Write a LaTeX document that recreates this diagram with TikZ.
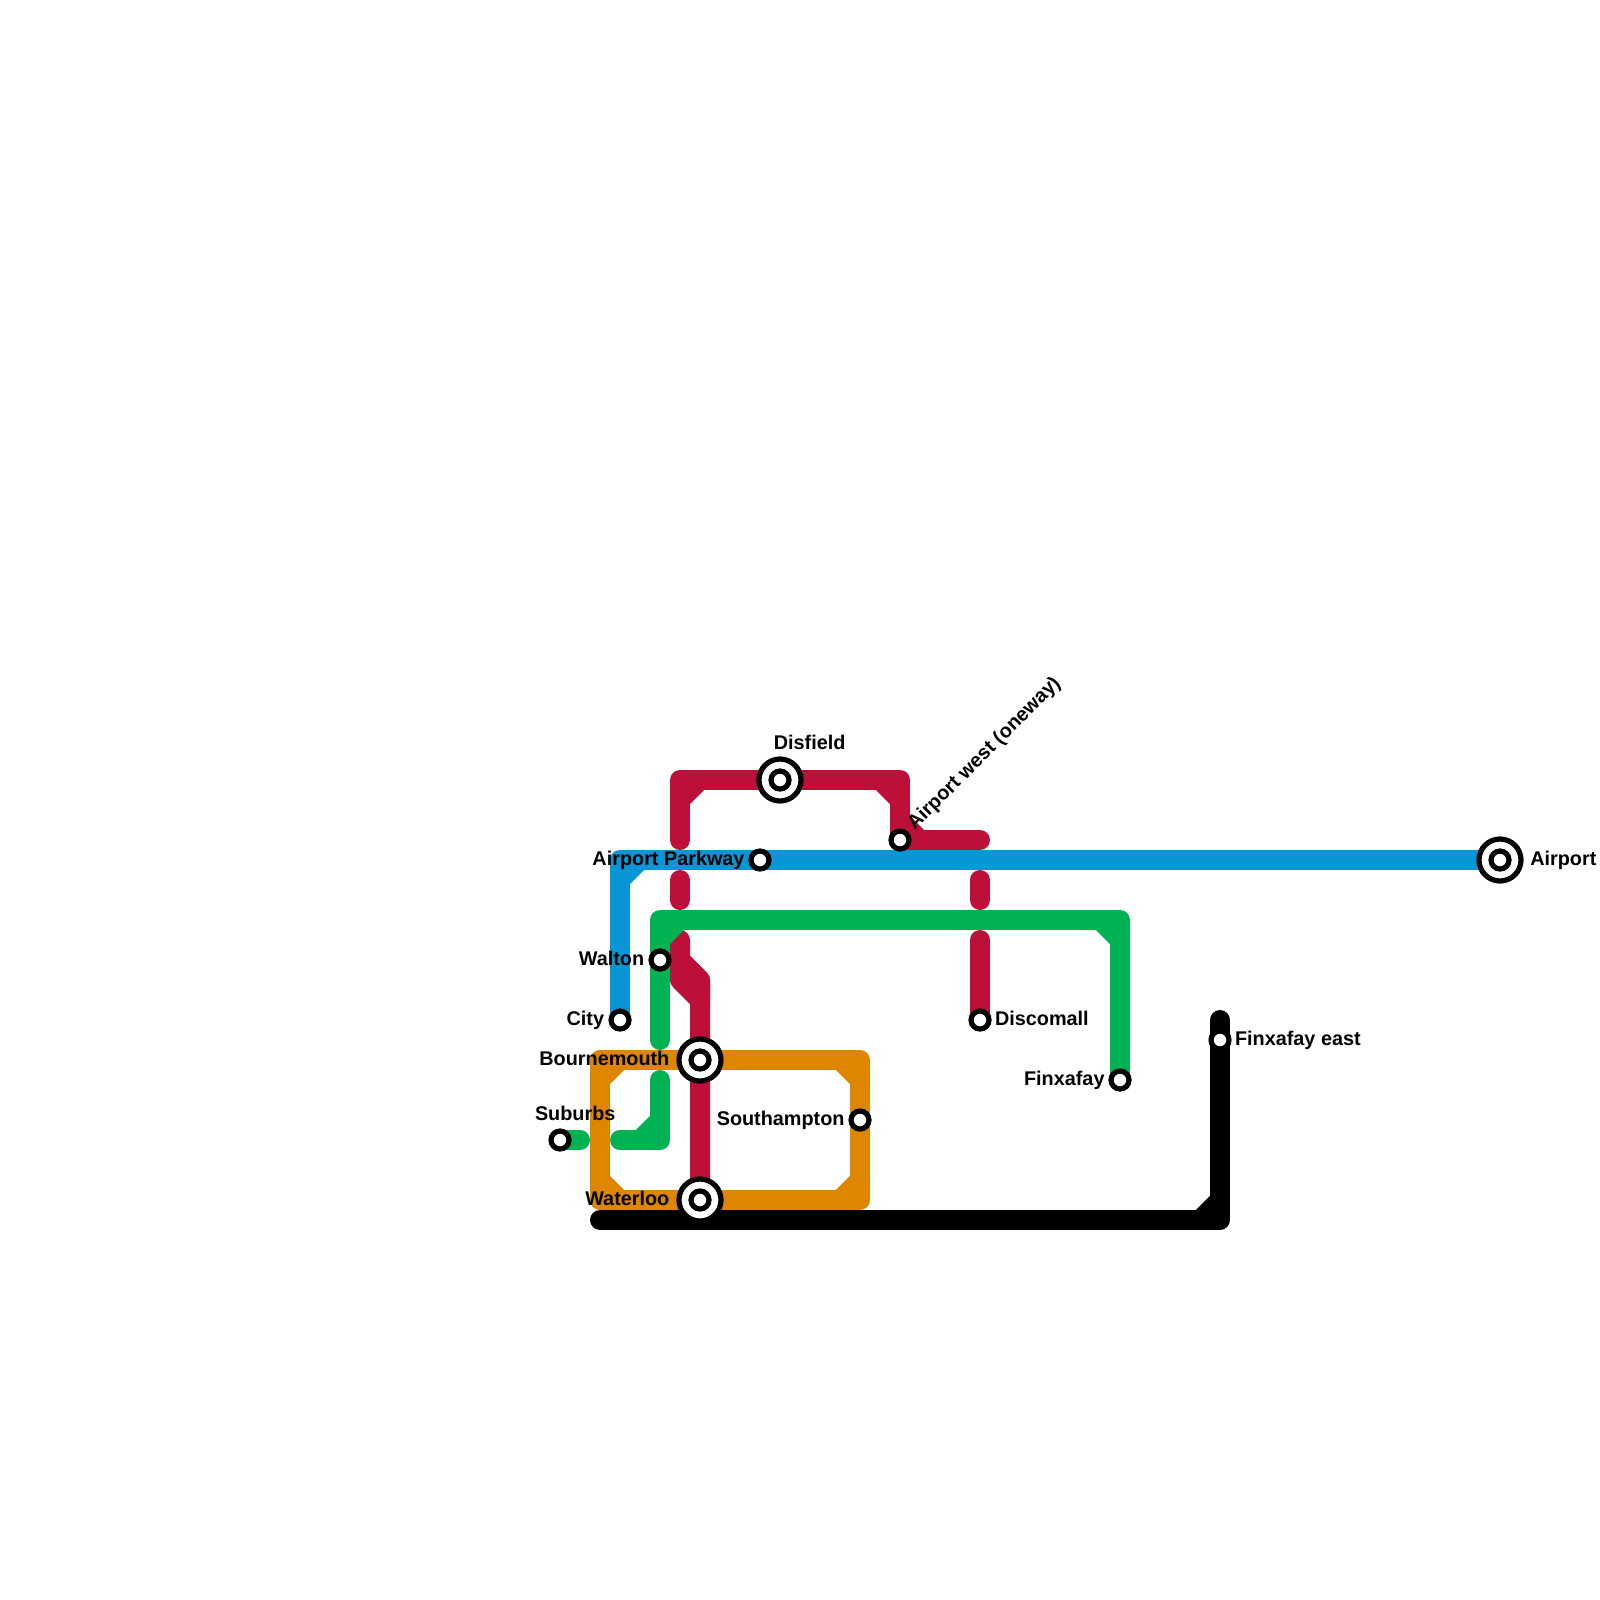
\documentclass[tikz,border=0pt]{standalone}
\usepackage{fontspec}
\setmainfont{Liberation Sans}
\usepackage{xcolor}
\usetikzlibrary{positioning,backgrounds}
\definecolor{LineRed}{HTML}{BD1038}
\definecolor{LineBlue}{HTML}{0896D7}
\definecolor{LineGreen}{HTML}{00B251}
\definecolor{LineOrange}{HTML}{DF8600}
\begin{document}
\begin{tikzpicture}[
    x=0.5cm, y=-0.5cm,
    tube/.style={
        draw=#1, line width=0.5cm,
        line cap=round, line join=round
    },
    stop/.style={
        circle, draw=black, fill=white, inner sep=0pt,
        minimum size=0.45cm, line width=0.13cm
    },
    hub/.style={
        circle, draw=black, fill=white, inner sep=0pt,
        minimum size=1.05cm, line width=0.13cm,
        path picture={
            \draw[black, line width=0.13cm] (path picture bounding box.center) circle (0.225cm);
        }
    },
    tag/.style={
        inner sep=0pt, font=\fontsize{14.1}{16}\selectfont\bfseries,
        text height=11pt, text depth=3pt
    },
]
\useasboundingbox (0,0) rectangle (80,80);

% -- Stations --
\node[hub] (disfield) at (39,39) {};
\node[hub] (airport) at (75,43) {};
\node[hub] (bournemouth) at (35,53) {};
\node[hub] (waterloo) at (35,60) {};
\node[stop] (airportwest) at (45,42) {};
\node[stop] (parkway) at (38,43) {};
\node[stop] (discomall) at (49,51) {};
\node[stop] (city) at (31,51) {};
\node[stop] (walton) at (33,48) {};
\node[stop] (southampton) at (43,56) {};
\node[stop] (suburbs) at (28,57) {};
\node[stop] (finxafay) at (56,54) {};
\node[stop] (finxeast) at (61,52) {};

% -- Labels --
\node[tag, above=0.05cm of disfield, xshift=0.74cm] (disfieldtag) {Disfield};
\node[tag, right=0.16cm of airport] (airporttag) {Airport};
\node[tag, left=0.17cm of bournemouth] (bournemouthtag) {Bournemouth};
\node[tag, left=0.17cm of waterloo] (waterlootag) {Waterloo};
\node[tag, left=0.09cm of parkway] (parkwaytag) {Airport Parkway};
\node[tag, right=0.08cm of discomall] (discomalltag) {Discomall};
\node[tag, left=0.1cm of city] (citytag) {City};
\node[tag, left=0.1cm of walton] (waltontag) {Walton};
\node[tag, left=0.09cm of southampton] (southamptontag) {Southampton};
\node[tag, above=0.08cm of suburbs, xshift=0.38cm] (suburbstag) {Suburbs};
\node[tag, left=0.09cm of finxafay] (finxafaytag) {Finxafay};
\node[tag, right=0.08cm of finxeast] (finxeasttag) {Finxafay east};
\node[tag, rotate=45, anchor=west, xshift=0.42cm, yshift=0.04cm] (westtag) at (airportwest) {Airport west (oneway)};

% -- Lines --
\begin{scope}[on background layer]
    \coordinate (redtop) at (34,42);
    \coordinate (rednw) at (34,39);
    \coordinate (redne) at (45,39);
    \coordinate (redend) at (49,42);
    \coordinate (midlefta) at (34,44);
    \coordinate (midleftb) at (34,45);
    \coordinate (midrighta) at (49,44);
    \coordinate (midrightb) at (49,45);
    \coordinate (lowleft) at (34,47);
    \coordinate (lowright) at (49,47);
    \coordinate (kinktop) at (34,48);
    \coordinate (kinkout) at (35,49);
    \coordinate (bluenw) at (31,43);
    \coordinate (greennw) at (33,46);
    \coordinate (greenne) at (56,46);
    \coordinate (greenend) at (33,52);
    \coordinate (greenres) at (33,54);
    \coordinate (greense) at (33,57);
    \coordinate (greentail) at (31,57);
    \coordinate (subend) at (29,57);
    \coordinate (ornw) at (30,53);
    \coordinate (orse) at (43,60);
    \coordinate (blackstart) at (30,61);
    \coordinate (blackse) at (61,61);
    \coordinate (blacktop) at (61,51);

    % red
    \draw[tube=LineRed] (redtop) |- (disfield.center) -| (airportwest.center) -- (redend);
    \draw[tube=LineRed] (rednw) ++(0,1) -- ++(1,-1);
    \draw[tube=LineRed] (redne) ++(-1,0) -- ++(1,1);
    \draw[tube=LineRed] (airportwest.center) ++(0,-1) -- ++(1,1);
    \draw[tube=LineRed] (midlefta) -- (midleftb);
    \draw[tube=LineRed] (midrighta) -- (midrightb);
    \draw[tube=LineRed] (lowright) -- (discomall.center);
    \draw[tube=LineRed] (lowleft) -- (kinktop) -- (kinkout) -- (waterloo.center);
    \draw[tube=LineRed, fill=LineRed] (kinktop) -- (kinkout) -- ++(0,1) -- ++(-1,-1) -- cycle;

    % orange
    \draw[tube=LineOrange] (ornw) -| (orse) -| cycle;
    \draw[tube=LineOrange] (ornw) ++(0,1) -- ++(1,-1);
    \draw[tube=LineOrange] (ornw -| orse) ++(-1,0) -- ++(1,1);
    \draw[tube=LineOrange] (orse) ++(0,-1) -- ++(-1,1);
    \draw[tube=LineOrange] (ornw |- orse) ++(0,-1) -- ++(1,1);

    % green
    \draw[tube=LineGreen] (greenend) |- (greenne) -- (finxafay.center);
    \draw[tube=LineGreen] (greennw) ++(0,1) -- ++(1,-1);
    \draw[tube=LineGreen] (greenne) ++(-1,0) -- ++(1,1);
    \draw[tube=LineGreen] (greenres) -- (greense) -- (greentail);
    \draw[tube=LineGreen] (greense) ++(-1,0) -- ++(1,-1);
    \draw[tube=LineGreen] (suburbs.center) -- (subend);

    % blue
    \draw[tube=LineBlue] (city.center) |- (airport.center);
    \draw[tube=LineBlue] (bluenw) ++(0,1) -- ++(1,-1);

    % black
    \draw[tube=black] (blackstart) -- (blackse) -- (blacktop);
    \draw[tube=black] (blackse) ++(-1,0) -- ++(1,-1);
\end{scope}
\end{tikzpicture}
\end{document}
